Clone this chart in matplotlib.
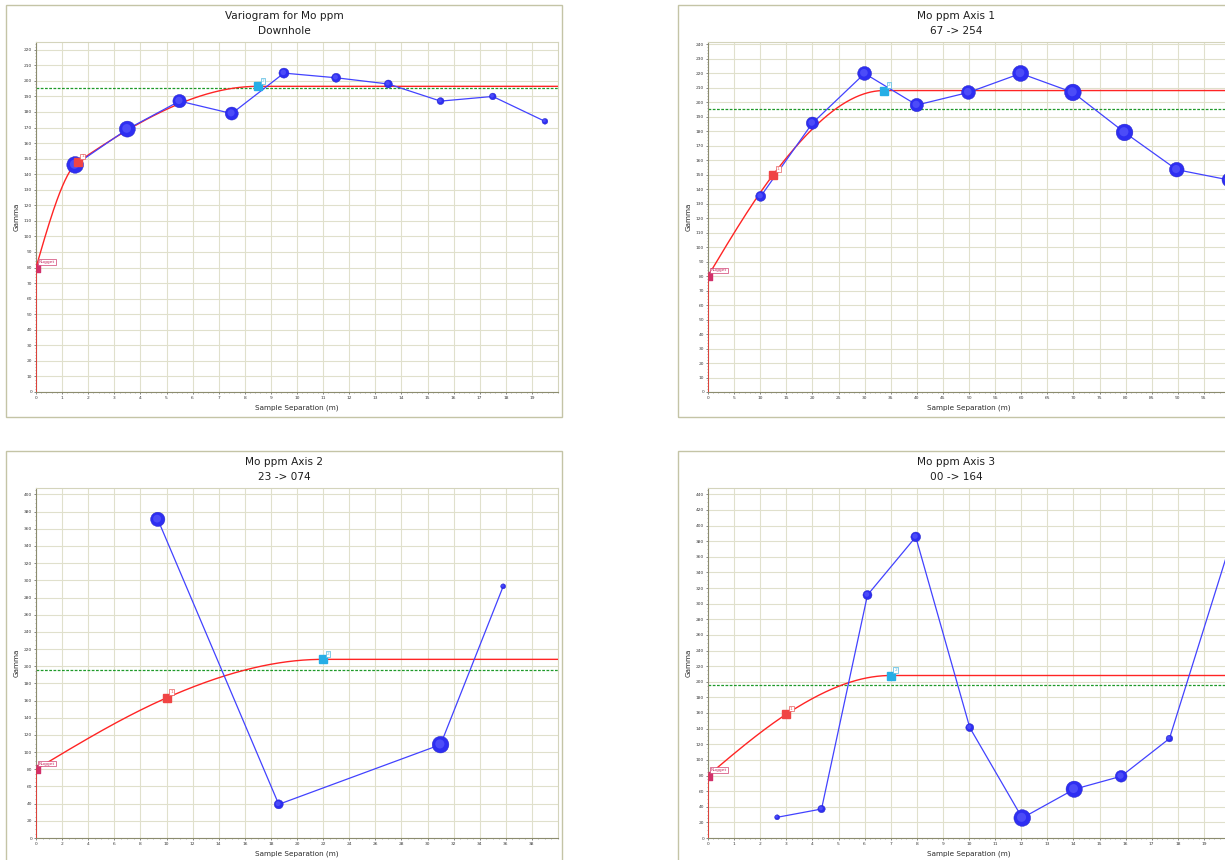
import numpy as np
import matplotlib
matplotlib.use('Agg')
import matplotlib.pyplot as plt
from matplotlib.patches import Rectangle
from matplotlib.ticker import MultipleLocator, AutoMinorLocator, FixedLocator
from matplotlib.transforms import ScaledTranslation

# --- experimental variograms (lag, gamma, pair weight) ---
downhole_lag = [1.5, 3.5, 5.5, 7.5, 9.5, 11.5, 13.5, 15.5, 17.5, 19.5]
downhole_gamma = [146, 169, 187, 179, 205, 202, 198, 187, 190, 174]
downhole_pairs = [145, 133, 92, 88, 52, 42, 33, 25, 23, 17]

axis1_lag = [10.1, 20.0, 30.0, 40.0, 49.9, 59.9, 69.9, 79.8, 89.8, 99.8]
axis1_gamma = [135, 185.5, 219.8, 198, 206.7, 219.8, 206.7, 179.1, 153.4, 146.3]
axis1_pairs = [52, 78, 100, 92, 100, 133, 144, 144, 112, 100]

axis2_lag = [9.33, 18.6, 31.0, 35.8]
axis2_gamma = [371, 39.2, 108.7, 293]
axis2_pairs = [106, 42, 144, 13]

axis3_lag = [2.65, 4.35, 6.11, 7.96, 10.03, 12.04, 14.03, 15.83, 17.68, 20.3]
axis3_gamma = [26.5, 37.1, 311, 385.4, 141.3, 25.6, 62.4, 79, 127.3, 407]
axis3_pairs = [13, 28, 42, 49, 33, 144, 138, 71, 23, 30]

# --- fitted models: nugget + two nested spherical structures (sill, range) ---
nugget = 80
variance = 195.6
downhole_struct = [(49, 1.6), (67.5, 8.5)]
axis1_struct = [(4.3, 12.5), (123.7, 33.7)]
axis2_struct = [(5, 10.0), (123, 22.0)]
axis3_struct = [(3, 3.0), (125, 7.0)]

titles = [("Variogram for Mo ppm", "Downhole"),
          ("Mo ppm Axis 1", "67 -> 254"),
          ("Mo ppm Axis 2", "23 -> 074"),
          ("Mo ppm Axis 3", "00 -> 164")]


def spherical(h, a):
    r = np.minimum(np.asarray(h, dtype=float) / a, 1.0)
    return 1.5 * r - 0.5 * r ** 3


def model(h, structs):
    g = nugget + sum(c * spherical(h, a) for c, a in structs)
    return g


W, H = 1225, 860
fig = plt.figure(figsize=(W / 100, H / 100), dpi=100, facecolor='white')

# panel frame (x0, y0) in pixels, axes box (left, top, right, bottom) in pixels
panels = [
    dict(frame=(6, 5), box=(36, 42, 558, 392), xmax=20, xstep=1, xminor=5, ymax=225, ystep=10, yminor=5,
         lag=downhole_lag, gamma=downhole_gamma, pairs=downhole_pairs, struct=downhole_struct),
    dict(frame=(678, 5), box=(708, 42, 1230, 392), xmax=100, xstep=5, xminor=5, ymax=241.5, ystep=10, yminor=5,
         lag=axis1_lag, gamma=axis1_gamma, pairs=axis1_pairs, struct=axis1_struct),
    dict(frame=(6, 451), box=(36, 488, 558, 838), xmax=40, xstep=2, xminor=4, ymax=407.5, ystep=20, yminor=4,
         lag=axis2_lag, gamma=axis2_gamma, pairs=axis2_pairs, struct=axis2_struct),
    dict(frame=(678, 451), box=(708, 488, 1230, 838), xmax=20, xstep=1, xminor=5, ymax=448, ystep=20, yminor=4,
         lag=axis3_lag, gamma=axis3_gamma, pairs=axis3_pairs, struct=axis3_struct),
]

pw, ph = 556, 412
for p, (t1, t2) in zip(panels, titles):
    fx, fy = p['frame']
    fig.add_artist(Rectangle((fx / W, 1 - (fy + ph) / H), pw / W, ph / H, transform=fig.transFigure,
                             fill=False, ec='#c4c4a6', lw=1.0))
    cx = (fx + pw / 2) / W
    fig.text(cx, 1 - (fy + 11) / H, t1, ha='center', va='center', fontsize=7.6, color='#1e1e1e')
    fig.text(cx, 1 - (fy + 26) / H, t2, ha='center', va='center', fontsize=7.6, color='#1e1e1e')

    l, t, r, b = p['box']
    ax = fig.add_axes([l / W, 1 - b / H, (r - l) / W, (b - t) / H])
    ax.set_xlim(0, p['xmax'])
    ax.set_ylim(0, p['ymax'])

    ax.xaxis.set_major_locator(FixedLocator(np.arange(0, p['xmax'] - 1e-6, p['xstep'])))
    ax.xaxis.set_minor_locator(AutoMinorLocator(p['xminor']))
    ax.yaxis.set_major_locator(MultipleLocator(p['ystep']))
    ax.yaxis.set_minor_locator(AutoMinorLocator(p['yminor']))
    ax.tick_params(which='major', length=1.6, width=0.5, color='#555555', labelsize=3.2,
                   labelcolor='#3a3a3a', pad=1.2)
    ax.tick_params(which='minor', length=1.0, width=0.4, color='#777777')
    ax.grid(True, which='major', color='#e0e0cc', lw=0.8, zorder=0)
    ax.set_axisbelow(True)
    for side in ('left', 'bottom'):
        ax.spines[side].set_color('#8c8c6e')
        ax.spines[side].set_linewidth(0.8)
    for side in ('top', 'right'):
        ax.spines[side].set_color('#d4d4bc')
        ax.spines[side].set_linewidth(0.8)

    ax.set_xlabel('Sample Separation (m)', fontsize=5.2, color='#2a2a2a')
    ax.xaxis.set_label_coords(0.5, -0.036)
    ax.set_ylabel('Gamma', fontsize=5.2, color='#2a2a2a')
    ax.yaxis.set_label_coords(-0.031, 0.5)

    # sample variance
    ax.axhline(variance, color='#1f9a2a', lw=0.9, ls=(0, (2.2, 1.2)), zorder=2)

    # model curve, zero at the origin then jumping to the nugget
    h = np.linspace(0, p['xmax'], 600)
    hx = np.concatenate([[0.0], h])
    gy = np.concatenate([[0.0], model(h, p['struct'])])
    ax.plot(hx, gy, color='#ff2424', lw=1.0, zorder=3, solid_capstyle='butt')

    # experimental points, sized by pair count
    x, y, s = p['lag'], p['gamma'], np.asarray(p['pairs'], dtype=float)
    ax.plot(x, y, color='#4242ff', lw=0.9, zorder=4)
    ax.scatter(x, y, s=s, c='#2e2ef2', edgecolors='#2424c4', linewidths=0.3, zorder=5)
    shift = ScaledTranslation(-0.5 / 72, 0.5 / 72, fig.dpi_scale_trans)
    ax.scatter(x, y, s=s * 0.3, c='#6a6aff', linewidths=0, alpha=0.5, zorder=6,
               transform=ax.transData + shift)

    # nugget marker (sits just inside the axis) and structure range markers
    nudge = ScaledTranslation(1.2 / 72, 0, fig.dpi_scale_trans)
    ax.plot([0], [nugget], marker=[(-1, -2), (1, -2), (1, 2), (-1, 2)], ms=5.2, color='#d2306a',
            ls='none', zorder=7, clip_on=False, transform=ax.transData + nudge)
    ax.annotate('Nugget', (0, nugget), xytext=(2.0, 2.6), textcoords='offset points',
                fontsize=3.2, color='#c8285e', ha='left', va='bottom', zorder=8,
                bbox=dict(boxstyle='square,pad=0.15', fc='white', ec='#d04070', lw=0.5))
    for k, ((c, a), col, ecol) in enumerate(zip(p['struct'], ['#f04444', '#26aee6'], ['#e86060', '#50b8e0'])):
        g = float(model(a, p['struct']))
        ax.plot([a], [g], marker='s', ms=5.2, color=col, mec=col, ls='none', zorder=7)
        ax.annotate(str(k + 1), (a, g), xytext=(2.6, 2.6), textcoords='offset points',
                    fontsize=3.2, color=ecol, ha='left', va='bottom', zorder=8,
                    bbox=dict(boxstyle='square,pad=0.2', fc='white', ec=ecol, lw=0.5))

fig.savefig('out.png', dpi=100, facecolor='white')
